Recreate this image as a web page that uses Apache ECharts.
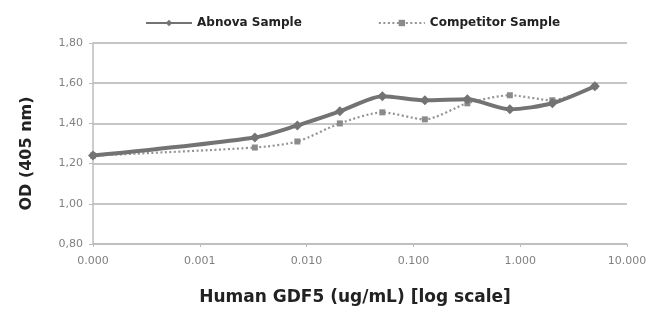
<!DOCTYPE html>
<html>
<head>
<meta charset="utf-8">
<script src="https://cdn.jsdelivr.net/npm/echarts@6/dist/echarts.min.js"></script>
<style>html,body{margin:0;padding:0;background:#fff}#c{width:650px;height:321px}</style>
</head>
<body>
<div id="c"></div>
<script>
// concentrations (ug/mL); 0 is plotted at 0.0001 (label "0.000")
var concentrations = [0.0001, 0.0032768, 0.008192, 0.02048, 0.0512, 0.128, 0.32, 0.8, 2, 5];
var abnovaValues = [1.24, 1.33, 1.39, 1.46, 1.535, 1.515, 1.52, 1.47, 1.50, 1.585];
var competitorValues = [1.24, 1.28, 1.31, 1.40, 1.455, 1.42, 1.50, 1.54, 1.515, 1.585];
var xTickValues = [0.0001, 0.001, 0.01, 0.1, 1, 10];
var xTickLabels = ['0.000', '0.001', '0.010', '0.100', '1.000', '10.000'];
var yTickLabels = ['0,80', '1,00', '1,20', '1,40', '1,60', '1,80'];

function pairs(xs, ys) { return xs.map(function (x, i) { return [x, ys[i]]; }); }

var chart = echarts.init(document.getElementById('c'), null, { renderer: 'canvas' });
var bold = 'DejaVu Sans, Verdana, sans-serif';
chart.setOption({
  animation: false,
  textStyle: { fontFamily: bold },
  legend: {
    top: 12, left: 140,
    itemWidth: 46, itemHeight: 8, itemGap: 76,
    textStyle: { fontFamily: bold, fontWeight: 'bold', fontSize: 12, color: '#222' },
    data: ['Abnova Sample', 'Competitor Sample']
  },
  grid: { left: 93, right: 23, top: 43, bottom: 77, containLabel: false },
  xAxis: {
    type: 'log', logBase: 10, min: 0.0001, max: 10,
    name: 'Human GDF5 (ug/mL) [log scale]', nameLocation: 'middle', nameGap: 45,
    nameTextStyle: { fontFamily: bold, fontWeight: 'bold', fontSize: 17, color: '#222', padding: [0, 10, 0, 0] },
    axisLine: { lineStyle: { color: '#bdbdbd', width: 1.5 } },
    axisTick: { show: true, length: 3, lineStyle: { color: '#bdbdbd' } },
    splitLine: { show: false },
    axisLabel: {
      color: '#808080', fontSize: 11, margin: 12, fontFamily: bold,
      formatter: function (v) {
        for (var i = 0; i < xTickValues.length; i++) {
          if (Math.abs(Math.log10(v) - Math.log10(xTickValues[i])) < 1e-6) return xTickLabels[i];
        }
        return '';
      }
    }
  },
  yAxis: {
    type: 'value', min: 0.8, max: 1.8, interval: 0.2,
    name: 'OD (405 nm)', nameLocation: 'middle', nameGap: 58,
    nameTextStyle: { fontFamily: bold, fontWeight: 'bold', fontSize: 16, color: '#222', padding: [0, 20, 0, 0] },
    axisLine: { show: true, lineStyle: { color: '#bdbdbd', width: 1.5 } },
    axisTick: { show: true, length: 4, lineStyle: { color: '#bdbdbd' } },
    splitLine: { lineStyle: { color: '#c6c6c6', width: 2 } },
    axisLabel: {
      color: '#808080', fontSize: 11, margin: 10, fontFamily: bold,
      formatter: function (v) { return yTickLabels[Math.round((v - 0.8) / 0.2)]; }
    }
  },
  series: [
    {
      name: 'Abnova Sample', type: 'line', z: 3,
      data: pairs(concentrations, abnovaValues),
      smooth: 0.25,
      symbol: 'diamond', symbolSize: 10,
      lineStyle: { color: '#737373', width: 4 },
      itemStyle: { color: '#737373' }
    },
    {
      name: 'Competitor Sample', type: 'line', z: 2,
      data: pairs(concentrations, competitorValues),
      smooth: 0.25,
      symbol: 'rect', symbolSize: 6,
      lineStyle: { color: '#939393', width: 2.2, type: [2, 2.5] },
      itemStyle: { color: '#8a8a8a' }
    }
  ]
});
</script>
</body>
</html>
